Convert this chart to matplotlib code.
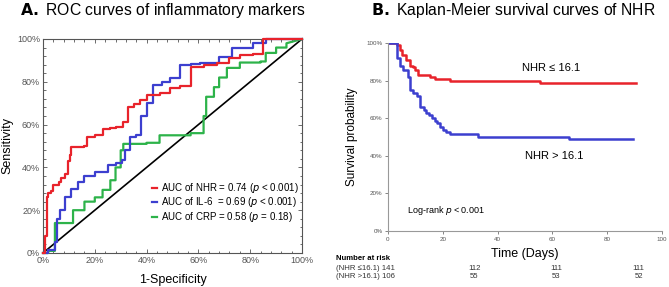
import matplotlib
matplotlib.use("Agg")
import matplotlib.pyplot as plt
import numpy as np
from matplotlib.ticker import MultipleLocator, FuncFormatter

plt.rcParams['font.family'] = ['Liberation Sans', 'DejaVu Sans']

# ---------------- Panel A: ROC data (1-specificity %, sensitivity %) ----------------
nhr_fpr = [0, 0.8, 0.8, 1.4, 1.4, 2, 2, 3, 3, 4, 4, 6, 6, 7, 7, 8.5, 8.5, 9.8, 9.8, 10.5, 10.5, 11,
           11, 16, 16, 17, 17, 20, 20, 23, 23, 26, 26, 28, 28, 31, 31, 33, 33, 35, 35, 37.5, 37.5,
           40, 40, 45, 45, 49, 49, 53, 53, 57, 57, 62, 62, 67, 67, 72, 72, 76, 76, 81, 81, 85, 85,
           100]
nhr_tpr = [0, 0, 8, 8, 26, 26, 28, 28, 29, 29, 32, 32, 33, 33, 35, 35, 37, 37, 43, 43, 46, 46,
           49.5, 49.5, 50, 50, 54, 54, 55, 55, 58, 58, 58.5, 58.5, 59, 59, 61, 61, 68, 68, 69.5,
           69.5, 71.5, 71.5, 74, 74, 75, 75, 77, 77, 78, 78, 87, 87, 88, 88, 89, 89, 91, 91, 92.5,
           92.5, 93, 93, 100, 100]

il6_fpr = [0, 2, 2, 4.6, 4.6, 5.3, 5.3, 6.5, 6.5, 8.5, 8.5, 11, 11, 13.5, 13.5, 16, 16, 20, 20, 25,
           25, 28, 28, 30.5, 30.5, 31.7, 31.7, 33.6, 33.6, 36, 36, 38, 38, 40, 40, 42.5, 42.5, 46,
           46, 49, 49, 53, 53, 57, 57, 60.6, 60.6, 68, 68, 73, 73, 81, 81, 86, 86, 100]
il6_tpr = [0, 0, 1.4, 1.4, 5, 5, 16, 16, 20, 20, 26, 26, 30, 30, 33, 33, 36, 36, 38, 38, 41, 41,
           42, 42, 43.5, 43.5, 48, 48, 54, 54, 55, 55, 64, 64, 70, 70, 78.5, 78.5, 80, 80, 82, 82,
           88, 88, 88.5, 88.5, 89, 89, 91.6, 91.6, 96, 96, 98, 98, 100, 100]

crp_fpr = [0, 2, 2, 4.6, 4.6, 11.6, 11.6, 16, 16, 20, 20, 23, 23, 26, 26, 28, 28, 30, 30, 31, 31,
           40, 40, 45, 45, 57, 57, 62, 62, 63, 63, 66, 66, 68, 68, 71, 71, 76, 76, 84, 84, 86, 86,
           90, 90, 94, 94, 100]
crp_tpr = [0, 0, 1, 1, 14, 14, 20, 20, 24, 24, 26, 26, 29.5, 29.5, 34, 34, 40, 40, 48, 48, 51, 51,
           51.5, 51.5, 55, 55, 56, 56, 64, 64, 73, 73, 77.5, 77.5, 82, 82, 86.5, 86.5, 89, 89,
           89.5, 89.5, 93.5, 93.5, 96, 96, 98, 100]

legend_labels = ["AUC of NHR = 0.74 ($p$ < 0.001)",
                 "AUC of IL-6  = 0.69 ($p$ < 0.001)",
                 "AUC of CRP = 0.58 ($p$ = 0.18)"]

# ---------------- Panel B: Kaplan-Meier data (days, survival) ----------------
low_t = [0, 2.5, 3.3, 4.2, 5, 6.5, 8, 9, 10, 11, 15.3, 17, 22.6, 28.8, 55.5, 90.5]
low_s = [1.0, 1.0, 0.99, 0.965, 0.936, 0.91, 0.88, 0.87, 0.856, 0.83, 0.818, 0.806, 0.80, 0.796,
         0.787, 0.787]

high_t = [0, 2, 3.2, 4.4, 5.6, 7.3, 8, 9.2, 10.5, 11.7, 13, 14, 15, 16, 17, 18, 19, 20, 21, 22.6,
          33, 66, 89.5]
high_s = [1.0, 1.0, 0.92, 0.88, 0.856, 0.82, 0.75, 0.735, 0.72, 0.66, 0.645, 0.63, 0.615, 0.60,
          0.585, 0.574, 0.555, 0.537, 0.525, 0.516, 0.50, 0.49, 0.49]

risk_times = [0, 30, 60, 90]
risk_low = [141, 112, 111, 111]
risk_high = [106, 55, 53, 52]

RED = "#e8232b"
BLUE = "#3c3fcf"
GREEN = "#2db34a"
GRAY = "#555555"

fig = plt.figure(figsize=(6.69, 2.87), dpi=100)

# ---------------- Panel A ----------------
axA = fig.add_axes([43/669, 1-253/287, 259/669, 214/287])
axA.plot([0, 100], [0, 100], color="black", lw=1.2, zorder=2)
axA.plot(crp_fpr, crp_tpr, color=GREEN, lw=1.6, zorder=3, clip_on=False)
axA.plot(il6_fpr, il6_tpr, color=BLUE, lw=1.6, zorder=4, clip_on=False)
axA.plot(nhr_fpr, nhr_tpr, color=RED, lw=1.6, zorder=5, clip_on=False)
axA.set_xlim(0, 100)
axA.set_ylim(0, 100)
pct = FuncFormatter(lambda v, p: f"{int(round(v))}%")
for a in (axA.xaxis, axA.yaxis):
    a.set_major_locator(MultipleLocator(20))
    a.set_minor_locator(MultipleLocator(4))
    a.set_major_formatter(pct)
axA.tick_params(which="both", direction="in", top=True, right=True, colors=GRAY,
                labelsize=6.5, labelcolor=GRAY, width=0.6)
axA.tick_params(which="major", length=3, pad=2)
axA.tick_params(which="minor", length=1.8)
for s in axA.spines.values():
    s.set_color(GRAY)
    s.set_linewidth(0.8)
axA.set_xlabel("1-Specificity", fontsize=9, labelpad=7)
axA.set_ylabel("Sensitivity", fontsize=9, labelpad=3)

legend_y = [188, 202, 217]
legend_cols = [RED, BLUE, GREEN]
for yy, col, lab in zip(legend_y, legend_cols, legend_labels):
    fy = 1 - yy/287
    fig.add_artist(plt.Line2D([152/669, 157/669], [fy, fy], color=col, lw=1.6))
    fig.text(161/669, fy, lab, fontsize=7.0, va="center", ha="left")

fig.text(20/669, 1-15/287, r"$\bf{A.}$ ROC curves of inflammatory markers", fontsize=11.3,
         ha="left", va="baseline")

# ---------------- Panel B ----------------
axB = fig.add_axes([388/669, 1-231/287, 274/669, 188/287])
axB.step(low_t, low_s, where="post", color=RED, lw=1.8)
axB.step(high_t, high_s, where="post", color=BLUE, lw=1.8)
axB.set_xlim(0, 100)
axB.set_ylim(0, 1.0)
axB.xaxis.set_major_locator(MultipleLocator(20))
axB.yaxis.set_major_locator(MultipleLocator(0.2))
axB.yaxis.set_major_formatter(FuncFormatter(lambda v, p: f"{int(round(v*100))}%"))
axB.tick_params(direction="out", length=2, width=0.5, labelsize=4.5, colors=GRAY,
                labelcolor=GRAY, pad=2)
for s in ("top", "right"):
    axB.spines[s].set_visible(False)
for s in ("left", "bottom"):
    axB.spines[s].set_color("#999999")
    axB.spines[s].set_linewidth(0.8)
axB.set_xlabel("Time (Days)", fontsize=9, labelpad=5)
axB.set_ylabel("Survival probability", fontsize=8.5, labelpad=6)
axB.text(49, 0.867, "NHR ≤ 16.1", fontsize=8, ha="left", va="center")
axB.text(50, 0.40, "NHR > 16.1", fontsize=8, ha="left", va="center")
axB.text(7, 0.11, "Log-rank $p$ < 0.001", fontsize=6.5, ha="left", va="center")

fig.text(371/669, 1-15/287, r"$\bf{B.}$ Kaplan-Meier survival curves of NHR", fontsize=11.3,
         ha="left", va="baseline")

# Number at risk table
fs_tab = 5.6
fig.text(336/669, 1-259/287, "Number at risk", fontsize=fs_tab, fontweight="bold",
         ha="left", va="center")
fig.text(336/669, 1-268/287, f"(NHR ≤16.1) {risk_low[0]}", fontsize=fs_tab, color="#333333",
         ha="left", va="center")
fig.text(336/669, 1-276/287, f"(NHR >16.1) {risk_high[0]}", fontsize=fs_tab, color="#333333",
         ha="left", va="center")
for t, a, b in zip(risk_times[1:], risk_low[1:], risk_high[1:]):
    fx = (388 + t * 2.74 + 4) / 669
    fig.text(fx, 1-268/287, str(a), fontsize=fs_tab, color="#333333", ha="center", va="center")
    fig.text(fx, 1-276/287, str(b), fontsize=fs_tab, color="#333333", ha="center", va="center")

fig.savefig("out.png", dpi=100)
